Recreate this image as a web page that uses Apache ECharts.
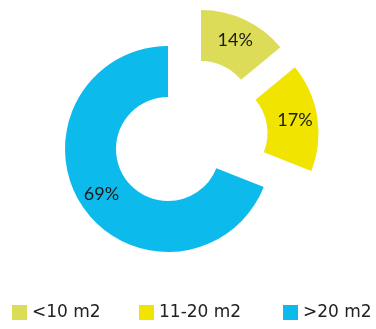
<!DOCTYPE html>
<html><head><meta charset="utf-8">
<script src="https://cdn.jsdelivr.net/npm/echarts@6/dist/echarts.min.js"></script>
<style>html,body{margin:0;padding:0;background:#fff}#c{width:376px;height:329px}</style>
</head><body><div id="c"></div>
<script>
const categories = ['<10 m2', '11-20 m2', '>20 m2'];
const values = [14, 17, 69];
const colors = ['#dcdc58', '#f0e400', '#0dbaec'];
// per-slice pie centres (exploded slices)
const centers = [[201, 113], [215.5, 133], [168, 149]];
const legendLeft = [12, 139, 283];

const chart = echarts.init(document.getElementById('c'));
const series = categories.map((name, k) => ({
  type: 'pie',
  name: 's' + k,
  center: centers[k],
  radius: [52, 103],
  startAngle: 90,
  clockwise: true,
  silent: true,
  animation: false,
  avoidLabelOverlap: false,
  labelLine: { show: false },
  data: categories.map((c, i) => ({
    name: c,
    value: values[i],
    itemStyle: { color: i === k ? colors[i] : 'rgba(0,0,0,0)' },
    label: {
      show: i === k,
      position: 'inside',
      formatter: values[i] + '%',
      color: '#1a1a1a',
      fontFamily: 'Lato',
      fontSize: 18
    }
  }))
}));

chart.setOption({
  color: colors,
  legend: categories.map((c, i) => ({
    data: [{ name: c, itemStyle: { color: colors[i] } }],
    left: legendLeft[i],
    top: 304,
    padding: 0,
    itemWidth: 15,
    itemHeight: 15,
    icon: 'rect',
    selectedMode: false,
    textStyle: { fontFamily: 'DejaVu Sans', fontSize: 17, color: '#222', padding: [9, 0, 0, 0] }
  })),
  series: series
});
</script></body></html>
